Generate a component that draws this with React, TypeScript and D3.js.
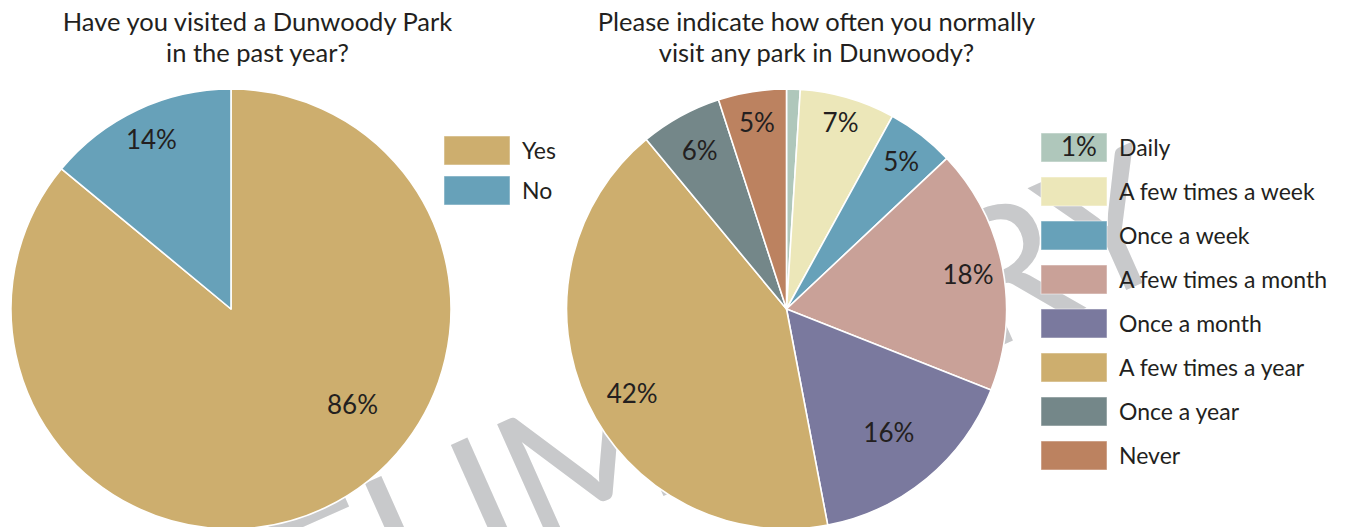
import React, { useLayoutEffect, useRef, useState } from 'react';
import * as d3 from 'd3';

// ---------- data ----------
const visitTitle = ['Have you visited a Dunwoody Park', 'in the past year?'];
const visitCategories = ['Yes', 'No'];
const visitValues = [86, 14];
const visitColors = ['#CDAE6E', '#67A1B9'];

const freqTitle = ['Please indicate how often you normally', 'visit any park in Dunwoody?'];
const freqCategories = [
  'Daily',
  'A few times a week',
  'Once a week',
  'A few times a month',
  'Once a month',
  'A few times a year',
  'Once a year',
  'Never',
];
const freqValues = [1, 7, 5, 18, 16, 42, 6, 5];
const freqColors = ['#AFC7BB', '#ECE7B9', '#67A1B9', '#C9A198', '#7A799E', '#CDAE6E', '#748789', '#BC8260'];

const watermarkText = 'PRELIMINARY';

// ---------- layout (label placement: angle in degrees clockwise from top, radius as fraction) ----------
const visitLabelLayout: { angle: number | null; r: number }[] = [
  { angle: 128.3, r: 0.704 },
  { angle: null, r: 0.85 },
];
const freqLabelLayout: { angle: number | null; r: number }[] = [
  { angle: 61, r: 1.52 },
  { angle: null, r: 0.88 },
  { angle: null, r: 0.85 },
  { angle: null, r: 0.84 },
  { angle: null, r: 0.73 },
  { angle: 241.3, r: 0.80 },
  { angle: null, r: 0.82 },
  { angle: null, r: 0.86 },
];

const W = 1345;
const H = 527;
const FONT = 'Lato, "Open Sans", sans-serif';
const TEXT = '#231F20';
const LABEL_FS = 26;

type PieProps = {
  cx: number;
  cy: number;
  r: number;
  values: number[];
  colors: string[];
};

function PieSlices({ cx, cy, r, values, colors }: PieProps) {
  const pie = d3.pie<number>().sort(null).value((d) => d);
  const arcs = pie(values);
  const arc = d3.arc<d3.PieArcDatum<number>>().innerRadius(0).outerRadius(r);
  return (
    <g transform={`translate(${cx},${cy})`}>
      {arcs.map((a, i) => (
        <path key={i} d={arc(a) || ''} fill={colors[i]} stroke="#ffffff" strokeWidth={1.6} strokeLinejoin="round" />
      ))}
    </g>
  );
}

function PieLabels({
  cx,
  cy,
  r,
  values,
  layout,
}: {
  cx: number;
  cy: number;
  r: number;
  values: number[];
  layout: { angle: number | null; r: number }[];
}) {
  const pie = d3.pie<number>().sort(null).value((d) => d);
  const arcs = pie(values);
  const total = d3.sum(values);
  return (
    <g transform={`translate(${cx},${cy})`}>
      {arcs.map((a, i) => {
        const lay = layout[i];
        const ang = lay.angle === null ? (a.startAngle + a.endAngle) / 2 : (lay.angle * Math.PI) / 180;
        const rr = lay.r * r;
        const x = Math.sin(ang) * rr;
        const y = -Math.cos(ang) * rr;
        const pct = Math.round((values[i] / total) * 100);
        return (
          <text
            key={'l' + i}
            x={x}
            y={y + LABEL_FS * 0.36}
            textAnchor="middle"
            fontFamily={FONT}
            fontSize={LABEL_FS}
            fill={TEXT}
          >
            {pct}%
          </text>
        );
      })}
    </g>
  );
}

type LegendProps = {
  x: number;
  y: number;
  pitch: number;
  categories: string[];
  colors: string[];
};

function Legend({ x, y, pitch, categories, colors }: LegendProps) {
  const yScale = d3.scaleLinear().domain([0, 1]).range([y, y + pitch]);
  const sw = 66;
  const sh = 29;
  const fs = 23;
  return (
    <g>
      {categories.map((c, i) => (
        <g key={c} transform={`translate(${x},${yScale(i)})`}>
          <rect width={sw} height={sh} fill={colors[i]} stroke="#ffffff" strokeOpacity={0.5} strokeWidth={1} />
          <text x={sw + 12} y={sh / 2 + fs * 0.37} fontFamily={FONT} fontSize={fs} fill={TEXT}>
            {c}
          </text>
        </g>
      ))}
    </g>
  );
}

function Title({ cx, lines }: { cx: number; lines: string[] }) {
  return (
    <text textAnchor="middle" fontFamily={FONT} fontSize={25.5} fill={TEXT}>
      {lines.map((l, i) => (
        <tspan key={i} x={cx} y={31 + i * 31}>
          {l}
        </tspan>
      ))}
    </text>
  );
}

function Watermark() {
  const ref = useRef<SVGTextElement>(null);
  const [pos, setPos] = useState<{ x: number; ls: number } | null>(null);
  const fs = 186;
  useLayoutEffect(() => {
    const t = ref.current;
    if (!t || pos) return;
    try {
      const e4 = t.getExtentOfChar(4);
      const e10 = t.getExtentOfChar(10);
      const c4 = e4.x + e4.width / 2;
      const c10 = e10.x + e10.width / 2;
      const s = (680 - (c10 - c4)) / 6;
      setPos({ x: 240 - c4 - 4 * s, ls: s });
    } catch (e) {
      setPos({ x: -130, ls: 0 });
    }
  }, [pos]);
  return (
    <g transform="rotate(-24)">
      <text
        ref={ref}
        x={pos ? pos.x : 0}
        y={723}
        fontFamily={FONT}
        fontSize={fs}
        fill="#C8C9CB"
        letterSpacing={pos ? pos.ls : 0}
        opacity={pos ? 1 : 0}
      >
        {watermarkText}
      </text>
    </g>
  );
}

export default function App() {
  return (
    <svg
      width={W}
      height={H}
      viewBox={`0 0 ${W} ${H}`}
      style={{ position: 'absolute', left: 0, top: 0, background: '#ffffff' }}
    >
      <rect width={W} height={H} fill="#ffffff" />
      <Watermark />
      <Title cx={257.5} lines={visitTitle} />
      <Title cx={816.5} lines={freqTitle} />
      <PieSlices cx={231} cy={309} r={220} values={visitValues} colors={visitColors} />
      <PieSlices cx={786.5} cy={309} r={220} values={freqValues} colors={freqColors} />
      <Legend x={444} y={136} pitch={40} categories={visitCategories} colors={visitColors} />
      <Legend x={1041} y={133} pitch={44} categories={freqCategories} colors={freqColors} />
      <PieLabels cx={231} cy={309} r={220} values={visitValues} layout={visitLabelLayout} />
      <PieLabels cx={786.5} cy={309} r={220} values={freqValues} layout={freqLabelLayout} />
    </svg>
  );
}
